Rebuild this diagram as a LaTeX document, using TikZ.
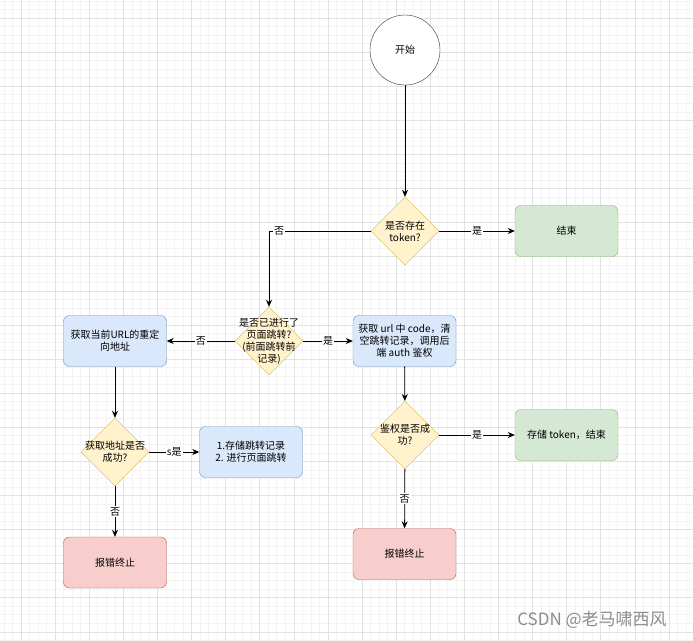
\documentclass[tikz,border=0pt]{standalone}
\usepackage{fontspec}
\setmainfont{Noto Sans CJK SC}
\usetikzlibrary{shapes.geometric,arrows.meta}

\definecolor{yfill}{HTML}{FFF2CC}
\definecolor{ydraw}{HTML}{D6B656}
\definecolor{gfill}{HTML}{D5E8D4}
\definecolor{gdraw}{HTML}{82B366}
\definecolor{bfill}{HTML}{DAE8FC}
\definecolor{bdraw}{HTML}{6C8EBF}
\definecolor{rfill}{HTML}{F8CECC}
\definecolor{rdraw}{HTML}{B85450}
\definecolor{gridminor}{HTML}{F3F3F3}
\definecolor{gridmajor}{HTML}{E2E2E2}
\definecolor{wmgray}{HTML}{8C8C8C}

\begin{document}
\begin{tikzpicture}[x=1pt, y=-1pt,
    every node/.style={font=\fontsize{10}{12}\selectfont, align=center},
    startnode/.style={circle, draw=black!80, fill=white, minimum size=70pt, inner sep=0pt},
    decision/.style={diamond, draw=ydraw, fill=yfill, minimum width=68pt, minimum height=68pt, inner sep=0pt},
    box/.style={rectangle, rounded corners=6pt, minimum width=103pt, minimum height=51pt, inner sep=1pt},
    greenbox/.style={box, draw=gdraw, fill=gfill},
    bluebox/.style={box, draw=bdraw, fill=bfill},
    redbox/.style={box, draw=rdraw, fill=rfill},
    flow/.style={draw=black, line width=0.8pt, -{Stealth[length=7pt, width=6pt]}},
    lbl/.style={fill=white, inner sep=1pt}]

  \useasboundingbox (0,0) rectangle (693,640);

  % background grid
  \foreach \k in {0,...,82} {
    \draw[gridminor, line width=0.5pt] ({-4.6+8.525*\k},0) -- ++(0,640);
  }
  \foreach \k in {0,...,76} {
    \draw[gridminor, line width=0.5pt] (0,{-7.6+8.525*\k}) -- ++(693,0);
  }
  \foreach \k in {0,...,19} {
    \draw[gridmajor, line width=0.6pt] ({21+34.1*\k},0) -- ++(0,640);
  }
  \foreach \k in {0,...,18} {
    \draw[gridmajor, line width=0.6pt] (0,{18+34.1*\k}) -- ++(693,0);
  }

  \node[startnode] (start) at (405,50) {开始};
  \node[decision, label={center:是否存在\\token?}] (hastoken) at (405,231) {};
  \node[greenbox] (finish) at (566.5,231) {结束};

  \node[decision, label={center:是否已进行了\\页面跳转?\\(前面跳转前\\记录)}] (jumped) at (269,341) {};
  \node[bluebox] (geturl) at (115,341) {获取当前URL的重定\\向地址};
  \node[bluebox] (getcode) at (404.5,341) {获取 url 中 code，清\\空跳转记录，调用后\\端 auth 鉴权};

  \node[decision, label={center:获取地址是否\\成功?}] (urlok) at (115,452) {};
  \node[bluebox] (store) at (251,452) {1.存储跳转记录\\2. 进行页面跳转};
  \node[redbox] (fail1) at (115,562.5) {报错终止};

  \node[decision, label={center:鉴权是否成\\功?}] (authok) at (405,435) {};
  \node[greenbox] (savetoken) at (566.5,435) {存储 token，结束};
  \node[redbox] (fail2) at (404.5,554) {报错终止};

  \draw[flow] (start) -- (hastoken);
  \draw[flow] (hastoken) -- node[lbl] {是} (finish);
  \draw[flow] (hastoken.west) -| node[lbl, pos=0.45] {否} (jumped.north);
  \draw[flow] (jumped) -- node[lbl] {否} (geturl);
  \draw[flow] (jumped) -- node[lbl] {是} (getcode);
  \draw[flow] (geturl) -- (urlok);
  \draw[flow] (urlok) -- node[lbl] {s是} (store);
  \draw[flow] (urlok) -- node[lbl] {否} (fail1);
  \draw[flow] (getcode) -- (authok);
  \draw[flow] (authok) -- node[lbl] {是} (savetoken);
  \draw[flow] (authok) -- node[lbl] {否} (fail2);

  \node[font=\fontsize{17}{20}\selectfont, text=wmgray] (mark) at (592,620) {CSDN @老马啸西风};
\end{tikzpicture}
\end{document}
